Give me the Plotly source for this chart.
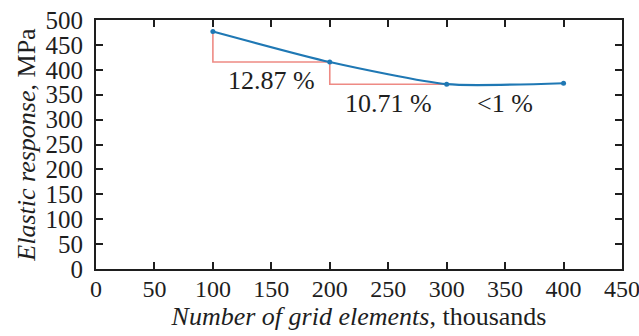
import plotly.graph_objects as go

# Mesh convergence study
elements_k = [100, 200, 300, 400]          # thousands of grid elements
response_mpa = [477.0, 415.6, 371.1, 373.0]  # elastic response, MPa
drop_labels = ["12.87 %", "10.71 %", "<1 %"]
x_ticks = [0, 50, 100, 150, 200, 250, 300, 350, 400, 450]
y_ticks = [0, 50, 100, 150, 200, 250, 300, 350, 400, 450, 500]

BLUE = "#1f78b4"
RED = "#ee8a84"
FONT = "Liberation Serif, Times New Roman, serif"
INK = "#1e1e1e"

fig = go.Figure()

# Step guides showing the drop between consecutive meshes
for i in range(2):
    fig.add_trace(go.Scatter(
        x=[elements_k[i], elements_k[i], elements_k[i + 1]],
        y=[response_mpa[i], response_mpa[i + 1], response_mpa[i + 1]],
        mode="lines", line=dict(color=RED, width=1.6),
        hoverinfo="skip", showlegend=False,
    ))

fig.add_trace(go.Scatter(
    x=elements_k, y=response_mpa,
    mode="lines+markers",
    line=dict(color=BLUE, width=2.2, shape="spline", smoothing=0.6),
    marker=dict(color=BLUE, size=5),
    showlegend=False,
))

# Relative change labels
label_pos = [(150, 379), (250, 333), (350, 333)]
for (lx, ly), txt in zip(label_pos, drop_labels):
    fig.add_annotation(x=lx, y=ly, text=txt, showarrow=False,
                       font=dict(family=FONT, size=26, color=INK))

axis_common = dict(
    showgrid=False, zeroline=False, showline=True, linecolor=INK,
    linewidth=2, mirror="ticks", ticks="inside", ticklen=7, tickwidth=1.5,
    tickcolor=INK, automargin=False, ticklabeloverflow="allow",
)

fig.update_xaxes(range=[0, 450], tickvals=x_ticks, ticklabelstandoff=-3,
                 tickfont=dict(family=FONT, size=24, color=INK),
                 title=dict(text="<i>Number of grid elements</i>, thousands",
                            font=dict(family=FONT, size=26, color=INK),
                            standoff=0),
                 **axis_common)
fig.update_yaxes(range=[0, 500], tickvals=y_ticks, ticklabelstandoff=6,
                 tickfont=dict(family=FONT, size=25, color=INK),
                 title=dict(text="<i>Elastic response</i>, MPa",
                            font=dict(family=FONT, size=26, color=INK),
                            standoff=2),
                 **axis_common)

fig.update_layout(
    width=639, height=336,
    margin=dict(l=96, r=17, t=20, b=67),
    plot_bgcolor="white", paper_bgcolor="white",
)

fig.write_html("out.html")
